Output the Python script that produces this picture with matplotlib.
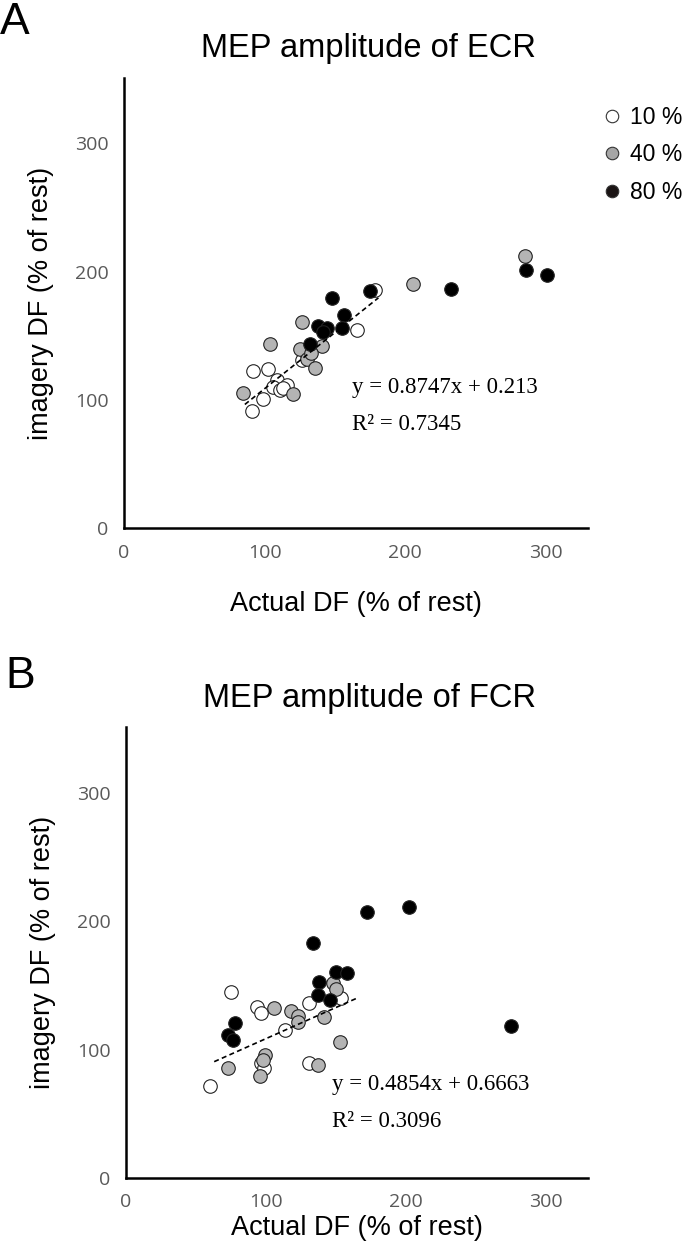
import matplotlib
matplotlib.use("Agg")
import matplotlib.pyplot as plt
from matplotlib.lines import Line2D

# panel A: ECR (x = actual DF, y = imagery DF, % of rest)
ecr_10_x = [178.6, 165.6, 92.0, 102.7, 99.2, 90.9, 108.7, 115.8, 106.3, 111.0, 113.0, 126.5, 130.0]
ecr_10_y = [185.9, 154.2, 122.9, 124.0, 100.5, 91.4, 115.6, 111.7, 110.4, 107.8, 109.0, 131.3, 135.0]
ecr_40_x = [284.9, 205.9, 126.9, 103.9, 125.3, 140.7, 130.0, 135.9, 84.9, 120.1, 133.0]
ecr_40_y = [212.5, 190.4, 160.7, 143.5, 139.6, 141.7, 131.8, 124.8, 105.2, 104.4, 137.0]
ecr_80_x = [147.8, 175.1, 156.8, 138.3, 144.3, 141.9, 155.4, 132.4, 232.7, 286.1, 300.8]
ecr_80_y = [179.5, 184.6, 166.4, 157.8, 156.0, 152.6, 156.0, 143.8, 186.5, 201.6, 197.7]
ecr_fit = (0.8747, 21.3)
ecr_fit_range = (86, 181)

# panel B: FCR
fcr_10_x = [75.0, 93.8, 96.7, 131.0, 153.4, 113.7, 96.7, 98.6, 130.5, 60.1]
fcr_10_y = [144.8, 133.1, 128.6, 136.5, 140.4, 115.6, 89.6, 85.7, 89.6, 71.9]
fcr_40_x = [147.5, 149.9, 105.7, 118.0, 123.2, 123.2, 141.6, 153.0, 99.1, 72.6, 136.9, 95.5, 98.0]
fcr_40_y = [152.1, 147.4, 132.5, 129.9, 126.0, 121.3, 125.2, 105.7, 96.1, 85.7, 88.3, 79.1, 92.0]
fcr_80_x = [172.3, 202.0, 133.3, 149.9, 157.7, 138.1, 137.4, 145.6, 78.2, 72.6, 76.6, 275.0]
fcr_80_y = [207.3, 211.0, 183.3, 160.4, 159.4, 152.6, 142.2, 138.3, 120.8, 111.7, 107.3, 118.5]
fcr_fit = (0.4854, 60.0)   # dashed line as drawn in the figure
fcr_fit_range = (63, 165)

levels = ["10 %", "40 %", "80 %"]
level_colors = ["white", "#b4b4b4", "black"]

fig = plt.figure(figsize=(7, 12.55), dpi=100)

TICK_FONT = "Open Sans"
LABEL_FONT = "Liberation Sans"
EQ_FONT = "Liberation Serif"


def draw_panel(ax, groups, fit, fit_range, title, eq, r2, eq_x, eq_y, r2_y, xlabelpad):
    for (xs, ys), col in zip(groups, level_colors):
        ax.scatter(xs, ys, s=95, facecolor=col, edgecolor="#222222",
                   linewidth=0.8, zorder=3)
    slope, icpt = fit
    x0, x1 = fit_range
    ax.plot([x0, x1], [slope * x0 + icpt, slope * x1 + icpt],
            ls=(0, (3, 2)), color="black", lw=1.2, zorder=4)

    ax.set_xlim(0, 330)
    ax.set_ylim(0, 351)
    ax.set_xticks([0, 100, 200, 300])
    ax.set_yticks([0, 100, 200, 300])
    for s in ["top", "right"]:
        ax.spines[s].set_visible(False)
    for s in ["left", "bottom"]:
        ax.spines[s].set_linewidth(1.8)
    ax.tick_params(length=0, pad=11, labelsize=14, labelcolor="#595959")
    for lab in ax.get_xticklabels() + ax.get_yticklabels():
        lab.set_fontfamily(TICK_FONT)
    ax.set_xlabel("Actual DF (% of rest)", fontsize=19.5, family=LABEL_FONT, labelpad=xlabelpad)
    ax.set_ylabel("imagery DF (% of rest)", fontsize=19.5, family=LABEL_FONT, labelpad=15)
    ax.set_title(title, fontsize=23.5, family=LABEL_FONT, pad=15, x=0.527)
    ax.text(eq_x, eq_y, eq, fontsize=16.5, family=EQ_FONT, va="center")
    ax.text(eq_x, r2_y, r2, fontsize=16.5, family=EQ_FONT, va="center")


ax_a = fig.add_axes([0.177, 0.579, 0.663, 0.359])
draw_panel(ax_a, [(ecr_10_x, ecr_10_y), (ecr_40_x, ecr_40_y), (ecr_80_x, ecr_80_y)],
           ecr_fit, ecr_fit_range, "MEP amplitude of ECR",
           "y = 0.8747x + 0.213", "R² = 0.7345", 162, 110, 81, 21)

ax_b = fig.add_axes([0.180, 0.0614, 0.660, 0.359])
draw_panel(ax_b, [(fcr_10_x, fcr_10_y), (fcr_40_x, fcr_40_y), (fcr_80_x, fcr_80_y)],
           fcr_fit, fcr_fit_range, "MEP amplitude of FCR",
           "y = 0.4854x + 0.6663", "R² = 0.3096", 147, 72.7, 43.7, 3)

# legend for panel A, top right of the figure
handles = [Line2D([], [], marker="o", ls="none", markersize=9,
                  markerfacecolor=c, markeredgecolor="#333333", markeredgewidth=0.8)
           for c in ["white", "#a6a6a6", "#1a1414"]]
fig.legend(handles, levels, loc="upper left", bbox_to_anchor=(0.841, 0.925),
           frameon=False, borderpad=0, handlelength=1, handletextpad=0.3,
           labelspacing=0.65, prop={"family": LABEL_FONT, "size": 16.5})

fig.text(0.0, 0.973, "A", fontsize=32, family=LABEL_FONT)
fig.text(0.008, 0.452, "B", fontsize=32, family=LABEL_FONT)

fig.savefig("out.png", dpi=100)
